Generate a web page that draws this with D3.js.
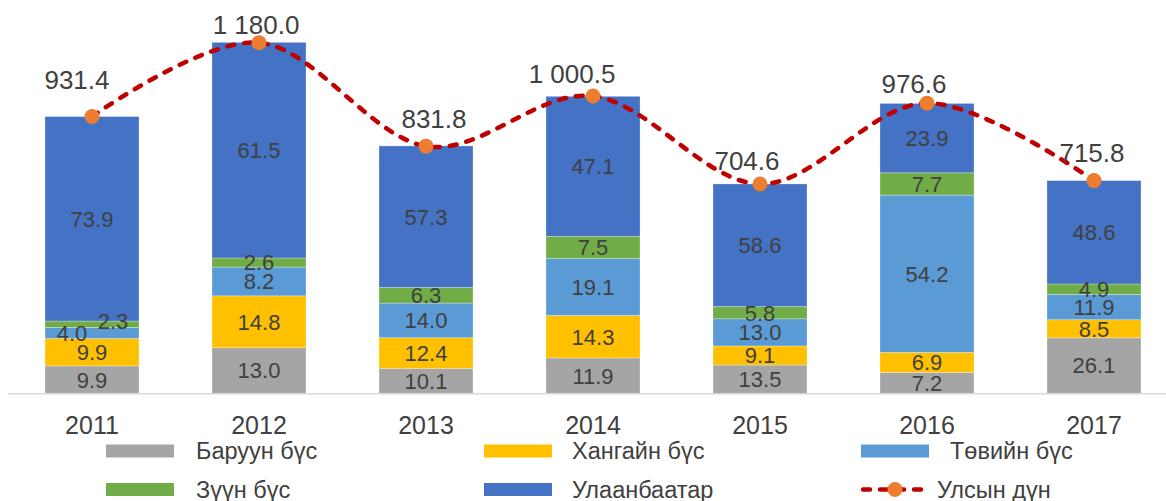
<!DOCTYPE html>
<html>
<head>
<meta charset="utf-8">
<script src="https://cdn.jsdelivr.net/npm/d3@7"></script>
<style>
  html, body { margin: 0; padding: 0; background: #fff; }
  svg { display: block; font-family: "Liberation Sans", Arial, sans-serif; }
</style>
</head>
<body>
<svg id="chart" width="1166" height="501"></svg>
<script>
// ---------- DATA ----------
const years = ["2011", "2012", "2013", "2014", "2015", "2016", "2017"];
const seriesNames = ["Баруун бүс", "Хангайн бүс", "Төвийн бүс", "Зүүн бүс", "Улаанбаатар"];
const baruun   = [9.9, 13.0, 10.1, 11.9, 13.5, 7.2, 26.1];
const khangai  = [9.9, 14.8, 12.4, 14.3, 9.1, 6.9, 8.5];
const tuv      = [4.0, 8.2, 14.0, 19.1, 13.0, 54.2, 11.9];
const zuun     = [2.3, 2.6, 6.3, 7.5, 5.8, 7.7, 4.9];
const ub       = [73.9, 61.5, 57.3, 47.1, 58.6, 23.9, 48.6];
const total    = [931.4, 1180.0, 831.8, 1000.5, 704.6, 976.6, 715.8];
const lineName = "Улсын дүн";

// ---------- STYLE / LAYOUT ----------
const colors = ["#A5A5A5", "#FFC000", "#5B9BD5", "#70AD47", "#4472C4"];
const lineColor = "#C00000", markerColor = "#ED7D31", textColor = "#404040";
// manual label nudges (px) for the total labels, as placed in the original
const totalLabelDx = [-15, -3, 8, -21, -13, -13, -2];
const totalLabelDy = [-28, -9, -18, -13, -14, -10, -19];
const segNudge = { "2011|2": [-20, 0], "2011|3": [21, -3] };

const svg = d3.select("#chart");
const baseY = 393.3;
const pxPerUnit = (393.3 - 42.7) / 1180;

const x = d3.scaleBand().domain(years).range([8.5, 1177.5]).paddingInner(0.437).paddingOuter(0.2185);
const y = d3.scaleLinear().domain([0, 1200]).range([baseY, baseY - 1200 * pxPerUnit]);

const seriesData = [baruun, khangai, tuv, zuun, ub];
const rows = years.map((yr, i) => {
  const r = { year: yr, total: total[i] };
  seriesData.forEach((s, k) => { r["s" + k] = s[i] * total[i] / 100; r["p" + k] = s[i]; });
  return r;
});
const stack = d3.stack().keys(seriesData.map((_, k) => "s" + k));
const stacked = stack(rows);

// axis baseline
svg.append("line")
  .attr("x1", 8).attr("x2", 1166)
  .attr("y1", baseY + 0.5).attr("y2", baseY + 0.5)
  .attr("stroke", "#D9D9D9").attr("stroke-width", 1.5);

// bars
const g = svg.append("g");
stacked.forEach((layer, k) => {
  g.selectAll(".seg" + k).data(layer).join("rect")
    .attr("x", d => x(d.data.year))
    .attr("width", x.bandwidth())
    .attr("y", d => y(d[1]))
    .attr("height", d => y(d[0]) - y(d[1]))
    .attr("fill", colors[k])
    .attr("stroke", "#ffffff").attr("stroke-opacity", 0.35).attr("stroke-width", 0.8);
});

// segment labels
stacked.forEach((layer, k) => {
  g.selectAll(".lab" + k).data(layer).join("text")
    .attr("x", d => x(d.data.year) + x.bandwidth() / 2 + ((segNudge[d.data.year + "|" + k] || [0, 0])[0]))
    .attr("y", d => (y(d[0]) + y(d[1])) / 2 + ((segNudge[d.data.year + "|" + k] || [0, 0])[1]))
    .attr("dy", "0.36em")
    .attr("text-anchor", "middle")
    .attr("font-size", 22)
    .attr("fill", textColor)
    .text(d => d.data["p" + k].toFixed(1));
});

// x axis labels
svg.append("g").selectAll("text").data(years).join("text")
  .attr("x", d => x(d) + x.bandwidth() / 2)
  .attr("y", 434)
  .attr("text-anchor", "middle")
  .attr("font-size", 25)
  .attr("fill", textColor)
  .text(d => d);

// total line
const cx = d => x(d.year) + x.bandwidth() / 2;
const line = d3.line().x(cx).y(d => y(d.total)).curve(d3.curveCardinal.tension(0));
svg.append("path").datum(rows)
  .attr("d", line)
  .attr("fill", "none")
  .attr("stroke", lineColor)
  .attr("stroke-width", 4.5)
  .attr("stroke-linecap", "round")
  .attr("stroke-dasharray", "7,10");

svg.append("g").selectAll("circle").data(rows).join("circle")
  .attr("cx", cx).attr("cy", d => y(d.total)).attr("r", 7.5)
  .attr("fill", markerColor);

const fmt = d3.formatLocale({ decimal: ".", thousands: " ", grouping: [3], currency: ["", ""] }).format(",.1f");
svg.append("g").selectAll("text").data(rows).join("text")
  .attr("x", (d, i) => cx(d) + totalLabelDx[i])
  .attr("y", (d, i) => y(d.total) + totalLabelDy[i])
  .attr("text-anchor", "middle")
  .attr("font-size", 26)
  .attr("fill", textColor)
  .text(d => fmt(d.total));

// legend
const legendItems = [
  { name: seriesNames[0], color: colors[0], col: 0, row: 0 },
  { name: seriesNames[1], color: colors[1], col: 1, row: 0 },
  { name: seriesNames[2], color: colors[2], col: 2, row: 0 },
  { name: seriesNames[3], color: colors[3], col: 0, row: 1 },
  { name: seriesNames[4], color: colors[4], col: 1, row: 1 },
  { name: lineName, line: true, col: 2, row: 1 }
];
const colX = [106, 484, 861];
const rowY = [451, 489.5];
const lg = svg.append("g");
legendItems.forEach(it => {
  const x0 = colX[it.col], yc = rowY[it.row];
  if (it.line) {
    lg.append("line").attr("x1", x0 + 2).attr("x2", x0 + 66).attr("y1", yc).attr("y2", yc)
      .attr("stroke", lineColor).attr("stroke-width", 4.5).attr("stroke-linecap", "round")
      .attr("stroke-dasharray", "7,10");
    lg.append("circle").attr("cx", x0 + 34).attr("cy", yc).attr("r", 7.5).attr("fill", markerColor);
    lg.append("text").attr("x", x0 + 76).attr("y", yc + 8).attr("font-size", 23.5).attr("fill", textColor).text(it.name);
  } else {
    lg.append("rect").attr("x", x0).attr("y", yc - 6.5).attr("width", 68).attr("height", 13).attr("fill", it.color);
    lg.append("text").attr("x", x0 + (it.col === 2 ? 89 : it.col === 1 ? 88 : 90)).attr("y", yc + 8)
      .attr("font-size", 23.5).attr("fill", textColor).text(it.name);
  }
});
</script>
</body>
</html>
